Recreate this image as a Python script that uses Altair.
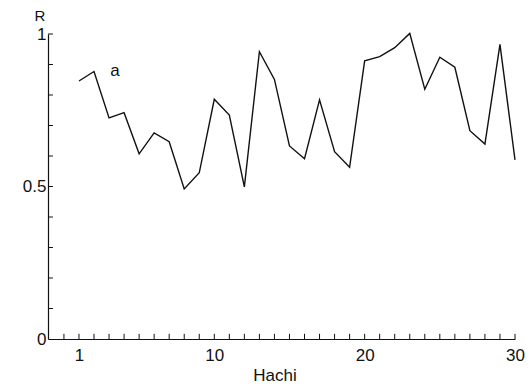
import altair as alt
import pandas as pd

days = list(range(1, 31))
r_values = [0.846, 0.877, 0.725, 0.742, 0.607, 0.676, 0.647, 0.492, 0.545, 0.786,
            0.734, 0.499, 0.942, 0.851, 0.633, 0.591, 0.784, 0.614, 0.563, 0.912,
            0.926, 0.955, 1.002, 0.819, 0.924, 0.891, 0.683, 0.639, 0.966, 0.587]
x_tick_values = list(range(0, 31))
x_label_values = [1, 10, 20, 30]
y_tick_values = [0.1, 0.2, 0.3, 0.4, 0.5, 0.6, 0.7, 0.8, 0.9, 1.0]
y_label_values = [0, 0.5, 1]

df = pd.DataFrame({"day": days, "R": r_values})
xt = pd.DataFrame({"xt": x_tick_values, "y0": 0.0, "y1": 0.017})
yt = pd.DataFrame({"yt": y_tick_values, "x0": -1.06, "x1": -0.73})
one = pd.DataFrame({"k": [0]})

W, H = 467, 305
FONT = "Liberation Sans"
FS = 17
xscale = alt.Scale(domain=[-1.06, 30], nice=False, zero=False)
yscale = alt.Scale(domain=[0, 1], nice=False, clamp=False)

line = alt.Chart(df).mark_line(color="#111111", strokeWidth=1.4, clip=False).encode(
    x=alt.X("day:Q", scale=xscale,
            axis=alt.Axis(values=x_label_values, title=None, grid=False, tickSize=0,
                          labelPadding=8, labelFontSize=FS, labelFont=FONT, labelColor="#111",
                          domainColor="#111", domainWidth=1.2, labelFlush=False)),
    y=alt.Y("R:Q", scale=yscale,
            axis=alt.Axis(values=y_label_values, format="~g", title=None, grid=False, tickSize=0,
                          labelPadding=2, labelFontSize=FS, labelFont=FONT, labelColor="#111",
                          domainColor="#111", domainWidth=1.2, labelFlush=False)),
)

xticks = alt.Chart(xt).mark_rule(color="#111111", strokeWidth=1).encode(
    x=alt.X("xt:Q", scale=xscale),
    y=alt.Y("y0:Q", scale=yscale),
    y2="y1:Q",
)

yticks = alt.Chart(yt).mark_rule(color="#111111", strokeWidth=1).encode(
    y=alt.Y("yt:Q", scale=yscale),
    x=alt.X("x0:Q", scale=xscale),
    x2="x1:Q",
)

lab_a = alt.Chart(one).mark_text(text="a", fontSize=FS, font=FONT, color="#111").encode(
    x=alt.datum(3.4), y=alt.datum(0.88)
)
lab_r = alt.Chart(one).mark_text(text="R", fontSize=15, font=FONT, color="#111").encode(
    x=alt.value(-8), y=alt.value(-18)
)
lab_h = alt.Chart(one).mark_text(text="Hachi", fontSize=FS, font=FONT, color="#111").encode(
    x=alt.value(227), y=alt.value(H + 37)
)

chart = alt.layer(line, xticks, yticks, lab_a, lab_r, lab_h).properties(
    width=W, height=H,
    autosize=alt.AutoSizeParams(type="none"),
    padding={"left": 48, "top": 34, "right": 16, "bottom": 49},
    background="white",
).configure_view(stroke=None)

chart.save("out.html", embed_options={"renderer": "svg", "actions": False})
